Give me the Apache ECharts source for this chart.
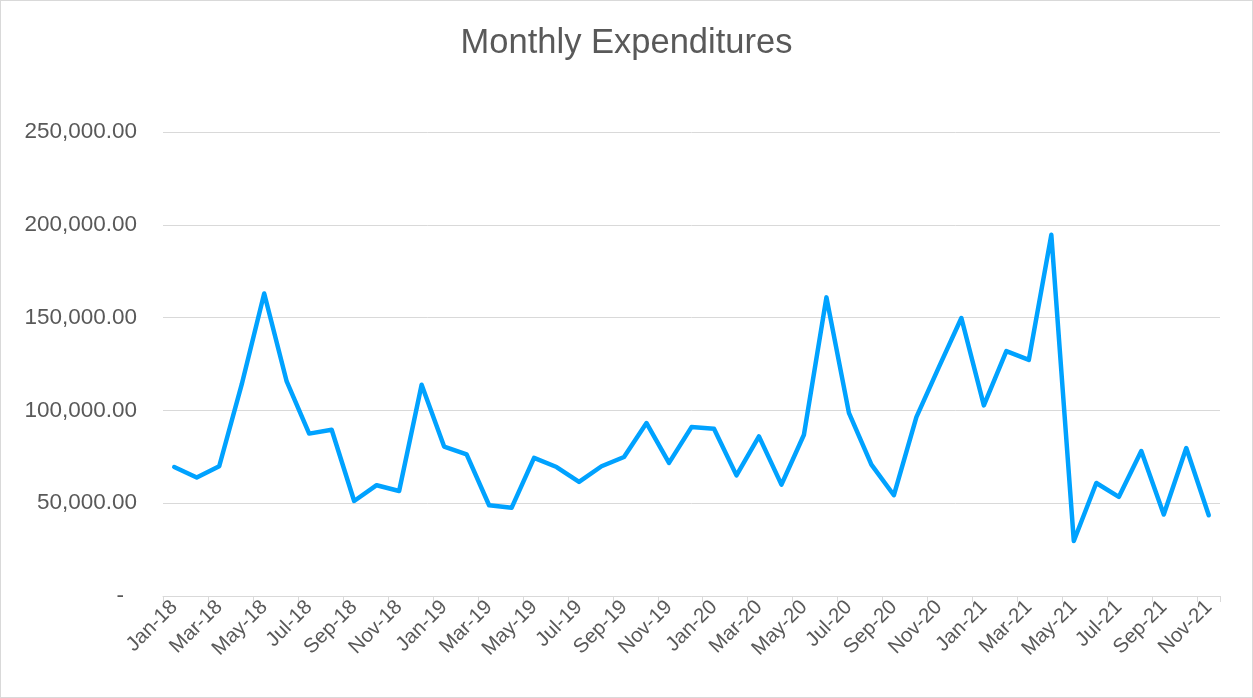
<!DOCTYPE html>
<html>
<head>
<meta charset="utf-8">
<script src="https://cdn.jsdelivr.net/npm/echarts@6/dist/echarts.min.js"></script>
<style>
html,body{margin:0;padding:0;background:#fff;}
#chart{width:1253px;height:698px;box-sizing:border-box;border:1px solid #d9d9d9;}
</style>
</head>
<body>
<div id="chart"></div>
<script>
const titleText = 'Monthly Expenditures';
const months = ['Jan-18','Feb-18','Mar-18','Apr-18','May-18','Jun-18','Jul-18','Aug-18','Sep-18','Oct-18','Nov-18','Dec-18',
  'Jan-19','Feb-19','Mar-19','Apr-19','May-19','Jun-19','Jul-19','Aug-19','Sep-19','Oct-19','Nov-19','Dec-19',
  'Jan-20','Feb-20','Mar-20','Apr-20','May-20','Jun-20','Jul-20','Aug-20','Sep-20','Oct-20','Nov-20','Dec-20',
  'Jan-21','Feb-21','Mar-21','Apr-21','May-21','Jun-21','Jul-21','Aug-21','Sep-21','Oct-21','Nov-21'];
const expenditures = [69500,63800,69900,114000,163000,115600,87500,89600,51200,59700,56600,113800,
  80500,76300,48900,47500,74400,69500,61500,69900,74900,93200,71700,91000,
  90100,65000,86000,60000,86900,160900,98700,70800,54300,96400,123300,149800,
  102700,131900,127200,194600,29600,60900,53400,78100,43900,79700,43500];
const yMin = 0, yMax = 250000, yStep = 50000;

const font = "'Liberation Sans', Arial, Helvetica, sans-serif";
const chart = echarts.init(document.getElementById('chart'), null, {renderer:'canvas'});
chart.setOption({
  animation: false,
  title: {
    text: titleText, left: 'center', top: 20,
    textStyle: {fontFamily: font, fontSize: 34.5, fontWeight: 'normal', color: '#595959'}
  },
  grid: {left: 162, right: 32, top: 131, bottom: 101, containLabel: false, outerBoundsMode: 'none'},
  xAxis: {
    type: 'category', data: months, boundaryGap: true,
    axisLine: {lineStyle: {color: '#d9d9d9', width: 1}},
    axisTick: {show: true, interval: 1, length: 6, lineStyle: {color: '#d9d9d9'}},
    axisLabel: {interval: 1, rotate: 45, margin: 8, color: '#595959', fontSize: 20.5, fontFamily: font}
  },
  yAxis: {
    type: 'value', min: yMin, max: yMax, interval: yStep,
    axisLine: {show: false}, axisTick: {show: false},
    splitLine: {lineStyle: {color: '#d9d9d9', width: 1}},
    axisLabel: {
      margin: 26, color: '#595959', fontSize: 22.5, fontFamily: font,
      formatter: function (v) {
        if (v === 0) return '{d|-}';
        return v.toLocaleString('en-US', {minimumFractionDigits: 2, maximumFractionDigits: 2});
      },
      rich: {d: {color: '#595959', fontSize: 22.5, fontFamily: font, padding: [0, 13, 0, 0]}}
    }
  },
  series: [{
    type: 'line', data: expenditures, symbol: 'none', smooth: false,
    lineStyle: {color: '#00a2ff', width: 4.5, join: 'round', cap: 'round'}
  }]
});
</script>
</body>
</html>
